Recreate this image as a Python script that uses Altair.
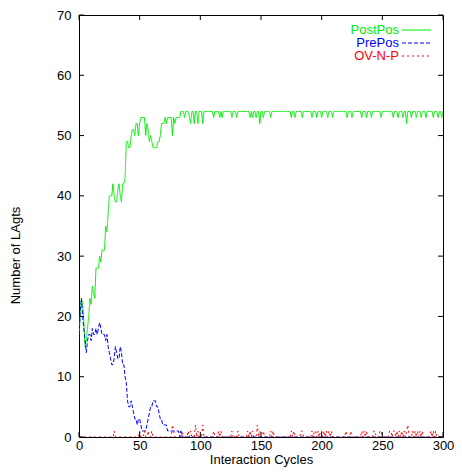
import altair as alt
import pandas as pd

series_names = ["PostPos", "PrePos", "OV-N-P"]
series_colors = ["#00ee00", "#0000ff", "#ff0000"]

post_pos = [
    17, 20, 23, 22, 19, 15, 16, 18, 20, 23, 22, 25, 24, 23, 28, 28, 28, 30, 29, 31,
    31, 31, 35, 34, 37, 40, 40, 40, 42, 40, 39, 39, 41, 42, 40, 39, 42, 42, 43, 49,
    49, 48, 48, 50, 51, 51, 50, 52, 52, 50, 52, 53, 53, 53, 53, 50, 52, 51, 49, 50,
    49, 48, 48, 48, 48, 49, 49, 50, 52, 52, 52, 53, 52, 53, 53, 53, 53, 50, 53, 52,
    53, 53, 53, 53, 54, 54, 54, 53, 54, 54, 54, 53, 52, 54, 54, 52, 54, 54, 52, 54,
    54, 54, 52, 54, 54, 54, 54, 54, 54, 54, 54, 53, 54, 54, 54, 54, 53, 54, 53, 54,
    54, 54, 54, 54, 54, 54, 53, 54, 54, 54, 53, 54, 54, 54, 54, 54, 54, 54, 54, 54,
    54, 53, 54, 53, 54, 54, 53, 54, 54, 52, 54, 54, 53, 54, 54, 54, 54, 54, 53, 54,
    54, 54, 54, 54, 54, 54, 54, 54, 54, 54, 54, 54, 54, 54, 54, 53, 54, 54, 53, 54,
    54, 54, 54, 54, 53, 54, 54, 54, 54, 54, 54, 54, 53, 54, 54, 54, 53, 54, 54, 54,
    53, 54, 54, 54, 54, 53, 54, 54, 54, 53, 54, 54, 54, 54, 54, 54, 54, 54, 54, 54,
    54, 53, 54, 54, 54, 53, 54, 54, 54, 54, 54, 54, 54, 53, 54, 54, 54, 53, 54, 54,
    54, 53, 54, 54, 54, 54, 54, 54, 54, 53, 54, 54, 54, 54, 54, 54, 54, 54, 54, 53,
    54, 54, 54, 53, 54, 54, 54, 53, 54, 54, 52, 54, 54, 54, 53, 54, 54, 54, 53, 54,
    54, 54, 53, 54, 54, 54, 53, 54, 54, 54, 54, 54, 53, 54, 54, 54, 53, 54, 54, 53,
    54,
]

pre_pos = [
    16, 21, 23, 20, 18, 16, 14, 16, 17, 17, 16, 18, 17, 17, 18, 17, 18, 19, 18, 17,
    17, 17, 16, 17, 15, 14, 13, 12, 12, 13, 15, 14, 13, 13, 15, 14, 12, 12, 10, 9,
    6, 5, 5, 6, 5, 4, 3, 3, 2, 3, 3, 2, 1, 1, 1, 1, 2, 3, 4, 5,
    5, 6, 6, 6, 5, 5, 4, 3, 3, 2, 2, 2, 2, 1, 1, 1, 1, 1, 1, 1,
    1, 1, 1, 0, 1, 0, 0, 0, 0, 0, 0, 0, 0, 0, 0, 0, 0, 0, 0, 0,
    0, 0, 0, 0, 0, 0, 0, 0, 0, 0, 0, 0, 0, 0, 0, 0, 0, 0, 0, 0,
    0, 0, 0, 0, 0, 0, 0, 0, 0, 0, 0, 0, 0, 0, 0, 0, 0, 0, 0, 0,
    0, 0, 0, 0, 0, 0, 0, 0, 0, 0, 0, 0, 0, 0, 0, 0, 0, 0, 0, 0,
    0, 0, 0, 0, 0, 0, 0, 0, 0, 0, 0, 0, 0, 0, 0, 0, 0, 0, 0, 0,
    0, 0, 0, 0, 0, 0, 0, 0, 0, 0, 0, 0, 0, 0, 0, 0, 0, 0, 0, 0,
    0, 0, 0, 0, 0, 0, 0, 0, 0, 0, 0, 0, 0, 0, 0, 0, 0, 0, 0, 0,
    0, 0, 0, 0, 0, 0, 0, 0, 0, 0, 0, 0, 0, 0, 0, 0, 0, 0, 0, 0,
    0, 0, 0, 0, 0, 0, 0, 0, 0, 0, 0, 0, 0, 0, 0, 0, 0, 0, 0, 0,
    0, 0, 0, 0, 0, 0, 0, 0, 0, 0, 0, 0, 0, 0, 0, 0, 0, 0, 0, 0,
    0, 0, 0, 0, 0, 0, 0, 0, 0, 0, 0, 0, 0, 0, 0, 0, 0, 0, 0, 0,
    0,
]

ov_n_p = [
    0, 0, 0, 0, 0, 0, 0, 0, 0, 0, 0, 0, 0, 0, 0, 0, 0, 0, 0, 0,
    0, 0, 0, 0, 0, 0, 0, 0, 0, 1, 0, 0, 0, 0, 0, 0, 0, 0, 0, 0,
    0, 0, 0, 0, 0, 0, 0, 0, 0, 0, 1, 0, 0, 0, 1, 0, 0, 1, 0, 0,
    1, 0, 0, 0, 0, 0, 0, 0, 0, 0, 0, 0, 0, 0, 0, 0, 0, 2, 1, 0,
    0, 0, 0, 0, 0, 1, 0, 0, 0, 0, 1, 0, 1, 0, 0, 0, 2, 0, 1, 0,
    0, 0, 2, 0, 0, 0, 0, 0, 0, 0, 0, 1, 0, 0, 0, 1, 0, 1, 0, 0,
    0, 0, 0, 0, 0, 0, 1, 0, 0, 0, 0, 1, 0, 0, 0, 0, 0, 0, 0, 1,
    0, 1, 0, 1, 0, 0, 0, 2, 0, 1, 0, 0, 1, 0, 0, 0, 0, 0, 1, 0,
    1, 0, 0, 0, 0, 0, 0, 0, 0, 0, 0, 0, 0, 0, 0, 1, 0, 1, 0, 0,
    0, 0, 0, 1, 1, 0, 0, 0, 0, 0, 0, 0, 1, 0, 1, 1, 0, 1, 0, 1,
    1, 0, 1, 0, 1, 0, 1, 0, 1, 0, 0, 0, 0, 0, 0, 0, 0, 0, 0, 0,
    1, 0, 0, 0, 1, 0, 0, 0, 0, 0, 0, 0, 0, 1, 0, 1, 0, 1, 0, 0,
    0, 0, 0, 1, 1, 0, 0, 0, 1, 1, 0, 0, 0, 0, 0, 0, 1, 1, 0, 1,
    1, 0, 1, 0, 1, 0, 1, 0, 1, 0, 1, 2, 0, 0, 0, 1, 0, 1, 0, 1,
    0, 1, 0, 1, 0, 0, 0, 0, 0, 0, 1, 0, 1, 0, 1, 0, 0, 0, 0, 0,
    0,
]

x_ticks = [0, 50, 100, 150, 200, 250, 300]
y_ticks = [0, 10, 20, 30, 40, 50, 60, 70]

W, H = 364, 422
FONT = "Liberation Sans"

cycles = list(range(len(post_pos)))
series_values = [post_pos, pre_pos, ov_n_p]
dashes = [[1, 0], [4, 2], [2, 3]]

x_scale = alt.Scale(domain=[0, 300], nice=False, zero=False)
y_scale = alt.Scale(domain=[0, 70], nice=False)

x_axis = alt.Axis(values=x_ticks, title="Interaction Cycles", labelPadding=2,
                  labelFlush=False, labelOverlap=False,
                  titleY=22, titleBaseline="middle", titleAlign="center")
y_axis = alt.Axis(values=y_ticks, title="Number of LAgts", labelPadding=8,
                  labelFlush=False, labelOverlap=False,
                  titleX=-64, titleY=240, titleAngle=270,
                  titleAlign="center", titleBaseline="middle")


def X(field):
    return alt.X(field, scale=x_scale, axis=x_axis)


def Y(field):
    return alt.Y(field, scale=y_scale, axis=y_axis)


layers = []
for i, name in enumerate(series_names):
    df = pd.DataFrame({"cycle": cycles, "value": series_values[i]})
    layers.append(
        alt.Chart(df).mark_line(color=series_colors[i], strokeWidth=1,
                                strokeDash=dashes[i], clip=True).encode(
            x=X("cycle:Q"), y=Y("value:Q"))
    )

# inward tick marks (mirrored on all four sides)
ydf = pd.DataFrame({"t": y_ticks})
xdf = pd.DataFrame({"t": x_ticks})
TL = 5
for a, b in [(0, TL), (W, W - TL)]:
    layers.append(alt.Chart(ydf).mark_rule(color="black", strokeWidth=1).encode(
        y=Y("t:Q"), x=alt.value(a), x2=alt.value(b)))
for a, b in [(H, H - TL), (0, TL)]:
    layers.append(alt.Chart(xdf).mark_rule(color="black", strokeWidth=1).encode(
        x=X("t:Q"), y=alt.value(a), y2=alt.value(b)))

# gnuplot-style key: label on the left, line sample on the right
key_y = [15, 28, 41]
for i, name in enumerate(series_names):
    kdf = pd.DataFrame({"label": [name]})
    layers.append(alt.Chart(kdf).mark_text(align="right", baseline="middle", font=FONT,
                                           fontSize=13, color=series_colors[i]).encode(
        text="label:N", x=alt.value(320), y=alt.value(key_y[i])))
    layers.append(alt.Chart(kdf).mark_rule(color=series_colors[i], strokeWidth=1,
                                           strokeDash=dashes[i]).encode(
        x=alt.value(323), x2=alt.value(352), y=alt.value(key_y[i])))

chart = alt.layer(*layers).properties(
    width=W, height=H,
    autosize=alt.AutoSizeParams(type="none"),
    padding={"left": 71, "top": 7, "right": 11, "bottom": 30},
).configure_view(
    stroke="black", strokeWidth=1
).configure_axis(
    domain=False, ticks=False, grid=False,
    labelFont=FONT, labelFontSize=13, labelColor="black",
    titleFont=FONT, titleFontSize=13, titleFontWeight="normal", titleColor="black",
)

chart.save("out.html", embed_options={"renderer": "svg", "actions": False})
